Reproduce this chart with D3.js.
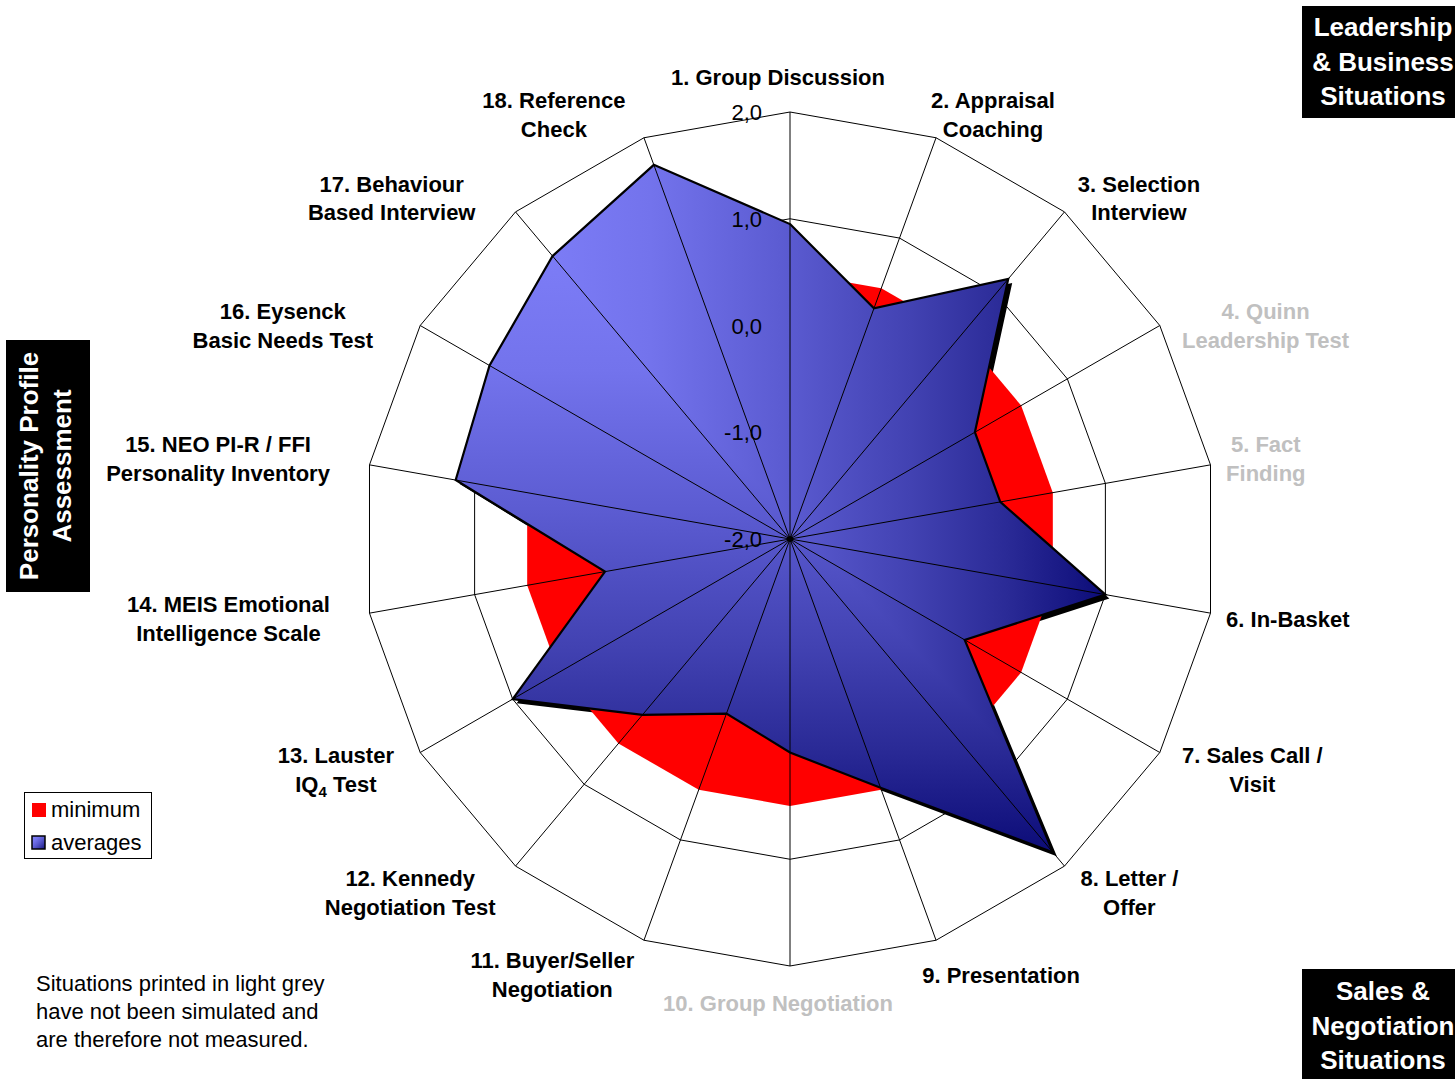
<!DOCTYPE html>
<html>
<head>
<meta charset="utf-8">
<script src="https://cdn.jsdelivr.net/npm/d3@7"></script>
<style>
  body { margin: 0; background: #fff; }
  svg { display: block; font-family: "Liberation Sans", Arial, Helvetica, sans-serif; }
</style>
</head>
<body>
<svg id="chart" width="1455" height="1079"></svg>
<script>
// ---- data ----------------------------------------------------------
const categoryLines = [
  ["1. Group Discussion"],
  ["2. Appraisal", "Coaching"],
  ["3. Selection", "Interview"],
  ["4. Quinn", "Leadership Test"],
  ["5. Fact", "Finding"],
  ["6. In-Basket"],
  ["7. Sales Call /", "Visit"],
  ["8. Letter /", "Offer"],
  ["9. Presentation"],
  ["10. Group Negotiation"],
  ["11. Buyer/Seller", "Negotiation"],
  ["12. Kennedy", "Negotiation Test"],
  ["13. Lauster", "IQ_4 Test"],
  ["14. MEIS Emotional", "Intelligence Scale"],
  ["15. NEO PI-R / FFI", "Personality Inventory"],
  ["16. Eysenck", "Basic Needs Test"],
  ["17. Behaviour", "Based Interview"],
  ["18. Reference", "Check"]
];
// 1 = situation simulated and measured, 0 = not simulated (printed grey)
const simulated = [1, 1, 1, 0, 0, 1, 1, 1, 1, 0, 1, 1, 1, 1, 1, 1, 1, 1];

const minimum  = [0.5, 0.5, 0.5, 0.5, 0.5, 0.5, 0.5, 0.5, 0.5, 0.5, 0.5, 0.5, 0.5, 0.5, 0.5, 0.5, 0.5, 0.5];
const averages = [0.95, 0.30, 1.18, 0.00, 0.00, 1.00, -0.11, 1.83, 0.48, 0.00, -0.26, 0.15, 1.00, -0.24, 1.18, 1.25, 1.46, 1.73];

const tickValues = [-2, -1, 0, 1, 2];
const tickLabels = ["-2,0", "-1,0", "0,0", "1,0", "2,0"];

const seriesNames = ["minimum", "averages"];

const groupBoxes = [
  { lines: ["Leadership", "& Business", "Situations"] },
  { lines: ["Sales &", "Negotiation", "Situations"] },
  { lines: ["Personality Profile", "Assessment"] }
];
const noteLines = [
  "Situations printed in light grey",
  "have not been simulated and",
  "are therefore not measured."
];

// ---- layout --------------------------------------------------------
const cx = 790, cy = 539;
const rOuter = 427;
const n = categoryLines.length;
const angleStep = 2 * Math.PI / n;

const svg = d3.select("#chart");
const defs = svg.append("defs");

const r = d3.scaleLinear().domain([-2, 2]).range([0, rOuter]);
const angle = i => i * angleStep;

const radial = d3.lineRadial()
  .angle((d, i) => angle(i))
  .radius(d => r(d))
  .curve(d3.curveLinearClosed);

// blue "from corner" style fill: two linear ramps joined on the bbox diagonal
const blueStops = [
  [0.00, "#8484ff"],
  [0.30, "#7373ec"],
  [0.50, "#5c5cd2"],
  [0.70, "#4242b2"],
  [0.85, "#2a2a96"],
  [1.00, "#0c0c78"]
];
function makeGrad(id, x2, y2) {
  const g = defs.append("linearGradient").attr("id", id)
    .attr("x1", 0).attr("y1", 0).attr("x2", x2).attr("y2", y2);
  blueStops.forEach(s => g.append("stop").attr("offset", s[0]).attr("stop-color", s[1]));
}
makeGrad("blueH", 1, 0);
makeGrad("blueV", 0, 1);
makeGrad("blueD", 1, 1);

const plot = svg.append("g").attr("transform", `translate(${cx},${cy})`);

// rings
plot.append("g").selectAll("path")
  .data(tickValues.filter(v => v > -2))
  .join("path")
  .attr("d", v => radial(d3.range(n).map(() => v)))
  .attr("fill", "none")
  .attr("stroke", "#000")
  .attr("stroke-width", 1);

// shadow of the averages area
plot.append("path")
  .attr("d", radial(averages))
  .attr("transform", "translate(4,4)")
  .attr("fill", "#000");

// minimum area
plot.append("path")
  .attr("d", radial(minimum))
  .attr("fill", "#ff0000");

// averages area: vertical ramp everywhere, horizontal ramp above the diagonal
const pts = averages.map((v, i) => [Math.sin(angle(i)) * r(v), -Math.cos(angle(i)) * r(v)]);
const x0 = d3.min(pts, p => p[0]), x1 = d3.max(pts, p => p[0]);
const y0 = d3.min(pts, p => p[1]), y1 = d3.max(pts, p => p[1]);
defs.append("clipPath").attr("id", "clipUR").attr("clipPathUnits", "userSpaceOnUse")
  .append("path")
  .attr("d", `M${x0},${y0}L${x0},${y0 - 20}L${x1 + 20},${y0 - 20}L${x1 + 20},${y1}L${x1},${y1}Z`);

plot.append("path").attr("d", radial(averages))
  .attr("fill", "url(#blueV)");
plot.append("path").attr("d", radial(averages))
  .attr("fill", "url(#blueH)").attr("clip-path", "url(#clipUR)");

// spokes
plot.append("g").selectAll("line")
  .data(d3.range(n))
  .join("line")
  .attr("x1", 0).attr("y1", 0)
  .attr("x2", i => Math.sin(angle(i)) * r(2))
  .attr("y2", i => -Math.cos(angle(i)) * r(2))
  .attr("stroke", "#000")
  .attr("stroke-width", 1);

// outline of the averages area
plot.append("path")
  .attr("d", radial(averages))
  .attr("fill", "none")
  .attr("stroke", "#000")
  .attr("stroke-width", 2.2)
  .attr("stroke-linejoin", "miter");

plot.append("circle").attr("r", 3).attr("fill", "#000");

// value axis labels
plot.append("g").selectAll("text")
  .data(tickValues)
  .join("text")
  .attr("x", -28)
  .attr("y", v => -r(v) + 8)
  .attr("text-anchor", "end")
  .attr("font-size", 22)
  .attr("fill", "#000")
  .text((v, i) => tickLabels[i]);

// category labels, placed just outside the outer ring along each spoke
const labelG = svg.append("g");
categoryLines.forEach((lines, i) => {
  const a = angle(i);
  const s = Math.sin(a), c = Math.cos(a);
  const t = labelG.append("text")
    .attr("text-anchor", "middle")
    .attr("font-size", 22)
    .attr("font-weight", "bold")
    .attr("fill", simulated[i] ? "#000" : "#c0c0c0");
  const lh = 29;
  lines.forEach((line, k) => {
    const ty = (k - (lines.length - 1) / 2) * lh;
    const parts = line.split(/_(\d)/);
    const tl = t.append("tspan").attr("x", 0).attr("y", ty).attr("dy", "0.35em");
    parts.forEach((p, j) => {
      if (j % 2 === 1) {
        tl.append("tspan").attr("font-size", 15).attr("dy", 5).text(p);
      } else if (j > 0) {
        tl.append("tspan").attr("dy", -5).text(p);
      } else {
        tl.append("tspan").text(p);
      }
    });
  });
  let hw = 0;
  t.selectAll(":scope > tspan").each(function () { hw = Math.max(hw, this.getComputedTextLength() / 2); });
  const k = Math.max(-1, Math.min(1, 2.5 * s));
  const upper = c > 0.3 && c < 0.99;
  let lx = cx - 12 + (rOuter + 28) * s + hw * k * (upper ? 1.12 : 1);
  if (c < -0.3 && c > -0.9) lx += 10;
  let ly = cy - (rOuter + 35) * c + (upper ? 27 - 18 * c : 0);
  if (c <= -0.9) ly += 2;
  t.attr("transform", `translate(${lx},${ly})`);
});

// group boxes
function groupBox(box, x, y, w, h, lineYs, cxText, rotate) {
  const g = svg.append("g");
  g.append("rect").attr("x", x).attr("y", y).attr("width", w).attr("height", h).attr("fill", "#000");
  const t = g.append("text")
    .attr("text-anchor", "middle")
    .attr("font-size", 26)
    .attr("font-weight", "bold")
    .attr("fill", "#fff");
  box.lines.forEach((line, k) => {
    t.append("tspan").attr("x", cxText).attr("y", lineYs[k]).attr("dy", "0.36em").text(line);
  });
  if (rotate) t.attr("transform", rotate);
}
groupBox(groupBoxes[0], 1302, 6, 170, 112, [27, 61.5, 96], 1383);
groupBox(groupBoxes[1], 1302, 969, 170, 120, [991, 1025.5, 1060], 1383);
groupBox(groupBoxes[2], 6, 340, 84, 252, [28.5, 61.5], 0, "translate(0,466) rotate(-90)");

// legend
const leg = svg.append("g");
leg.append("rect").attr("x", 24.5).attr("y", 792.5).attr("width", 127).attr("height", 66)
  .attr("fill", "#fff").attr("stroke", "#000").attr("stroke-width", 1);
leg.append("rect").attr("x", 32).attr("y", 803).attr("width", 14).attr("height", 14).attr("fill", "#ff0000");
leg.append("rect").attr("x", 32).attr("y", 836).attr("width", 13).attr("height", 13)
  .attr("fill", "url(#blueD)").attr("stroke", "#000").attr("stroke-width", 1.5);
leg.selectAll("text.lg").data(seriesNames).join("text")
  .attr("class", "lg")
  .attr("x", 51)
  .attr("y", (d, i) => 817 + i * 33)
  .attr("font-size", 22)
  .attr("fill", "#000")
  .text(d => d);

// footnote
svg.append("text")
  .attr("font-size", 22)
  .attr("fill", "#000")
  .selectAll("tspan").data(noteLines).join("tspan")
  .attr("x", 36)
  .attr("y", (d, i) => 983 + i * 28)
  .attr("dy", "0.35em")
  .text(d => d);
</script>
</body>
</html>
